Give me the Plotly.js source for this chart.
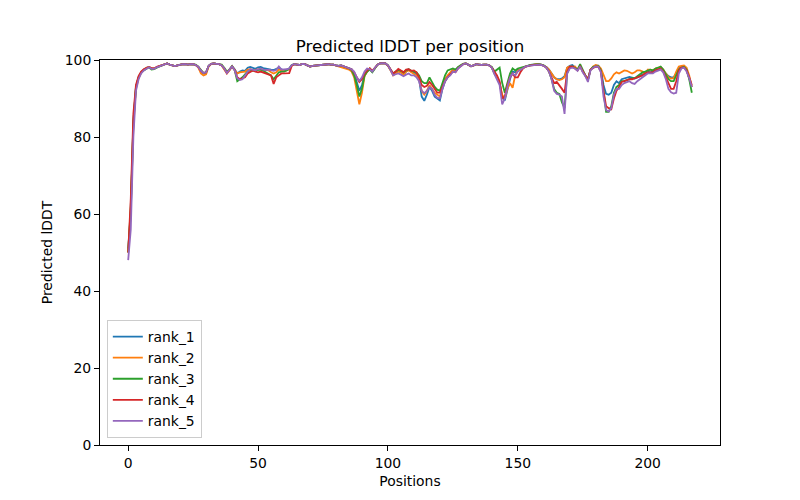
<!DOCTYPE html>
<html><head><meta charset="utf-8">
<script src="https://cdn.plot.ly/plotly-3.0.1.min.js"></script>
<style>html,body{margin:0;padding:0;background:#fff}#chart{width:800px;height:500px}</style>
</head><body><div id="chart"></div>
<script>
const seriesNames = ["rank_1","rank_2","rank_3","rank_4","rank_5"];
const rank_1 = [51,60,84,93,95.5,96.8,97.5,98,98.2,97.8,
97.8,98.2,98.4,98.6,98.9,99.1,98.8,98.5,98.4,98.6,
98.8,98.9,98.9,98.8,98.9,98.9,98.7,98.2,97.2,96.6,
96.8,98.5,99,99.1,99,98.9,98.6,97.8,96.8,97.5,
98.4,97.6,96.5,97,97.3,97.2,98,98.2,97.9,97.7,
98.1,98.2,97.9,97.7,97.6,97.5,97.4,97.6,98,97.6,
97.4,97.5,97.8,98.7,98.9,98.8,98.7,99,98.9,98.6,
98.3,98.5,98.6,98.7,98.8,98.8,98.9,98.9,98.8,98.8,
98.6,98.5,98.6,98.4,98,97.8,97.6,96.5,94.5,92,
93.5,96,97,97.8,97,98,98.8,99.1,99.2,99.1,
98.6,97.5,96.3,96.8,97.2,96.8,96.2,97,97.5,97,
96.8,96.3,95,90.5,89.4,91,93,92,90.5,90,
89.5,92.5,94.5,95.5,96.5,97.5,97,98,98.5,99,
99.1,98.8,98.4,98.6,98.9,98.8,98.7,98.8,98.8,98.6,
98,96.5,95.5,94,90.5,89.5,92.5,95,97,96.8,
97.5,97.5,98,98.3,98.5,98.7,98.8,98.9,98.9,98.8,
98.6,98.2,97.5,96.5,95.5,95,95,95.2,95.8,98,
98.5,98.7,98,97.5,98.5,97,96,95,97.5,98.2,
98.5,98.5,97.5,93.5,91.2,91,91.5,93.5,94.5,94,
95,95.2,95.5,95.6,95.4,95.2,95.5,95.8,96.2,96.8,
97,96.8,97,97.2,97.5,97.8,97.2,96.5,95.8,95.5,
95.5,96.5,97.8,98.3,98.2,97.5,95.5,93];
const rank_2 = [50,61,83,92.5,95.3,96.7,97.5,98,98.2,97.8,
97.8,98.2,98.4,98.6,98.9,99.1,98.8,98.5,98.4,98.6,
98.8,98.9,98.9,98.8,98.9,98.9,98.7,98,96.5,96,
96.3,98.3,99,99.1,99,98.9,98.6,97.6,96.5,97.3,
98.3,97.4,96.5,96.8,97,97,97.5,97.6,97.3,97.5,
97.6,97.7,97.5,97.3,97.3,96.8,96.5,96.8,97.5,97.3,
97.2,97.3,97.6,98.6,98.9,98.8,98.7,99,98.9,98.6,
98.3,98.5,98.6,98.7,98.8,98.8,98.9,98.9,98.8,98.8,
98.5,98.3,98.3,98,97.8,97.5,97,95.5,92,88.5,
91.5,95.8,97,97.8,97,98,98.8,99.1,99.2,99.1,
98.5,97.3,96,96.5,97,96.8,96.2,97,97.3,96.8,
96.5,96,95,92,91,92,93.5,92.5,91.5,91,
90.5,93,95,96,96.8,97.5,97,98,98.5,99,
99.1,98.8,98.4,98.6,98.9,98.8,98.7,98.8,98.8,98.6,
98,96.5,95.5,94,91,90,92.5,94,92.8,96,
97.2,97.5,98,98.3,98.5,98.7,98.8,98.9,98.9,98.8,
98.5,98.2,97.5,96.5,95.5,95,94.8,95,95.5,98,
98.3,98.2,98.3,97.5,98.5,97,96,95,97.5,98.3,
98.7,98.5,97.8,96,94.5,94.5,95.2,96.3,96.8,96.5,
97,97.3,97.2,96.8,96.5,96.8,97.3,97.3,97,96.2,
97.5,97.5,97.3,97.8,98,98.2,97.5,96.5,95.5,95.2,
95.3,97,98.3,98.5,98.6,98,96,93];
const rank_3 = [50,62,84,93,95.5,96.8,97.3,97.8,98.1,97.5,
97.6,98,98.4,98.6,98.9,99.1,98.8,98.5,98.4,98.6,
98.8,98.9,98.9,98.8,98.9,98.9,98.8,98.3,97.3,96.6,
96.8,98.5,99,99.1,99,98.9,98.8,98,97,97.5,
98.4,97.3,94.5,95,95.5,96.3,97,97.3,97.2,97.3,
97.5,97.5,97.2,96.8,96.5,96,95,96,96.8,97,
97,97.3,97.7,98.7,98.9,98.8,98.7,99,98.9,98.6,
98.3,98.5,98.6,98.7,98.8,98.8,98.9,98.9,98.8,98.8,
98.6,98.5,98.6,98.4,98,97.8,97.4,96,93.5,90.5,
92.5,96,97,97.5,96.8,98,98.8,99.1,99.2,99.1,
98.6,97.5,96.5,97,97.4,97.2,96.8,97.3,97.6,97.2,
97,96.8,96,94.5,94,94,95.5,94.3,93,92.3,
92,94,96,97.3,97.5,97.8,97.5,98.2,98.6,99,
99.1,98.8,98.4,98.6,98.9,98.8,98.7,98.8,98.8,98.6,
98.2,97,97.5,98,94,91.5,94,96.5,97.8,97.3,
97.8,98,98.3,98.5,98.6,98.7,98.8,98.9,98.9,98.8,
98.6,98,97,95,92.5,91.5,91.2,89,87.5,96.5,
98,98.3,98,97.5,98.9,97.2,96,94.8,97.5,98.2,
98.4,98.4,97.3,91,86.5,86.5,88,91.5,93,93.5,
94.5,94.5,94.8,95,95.3,95.3,95.8,96.2,96.8,97,
97.3,97.5,97.3,97.8,98,98.3,97.5,96.2,95,94.5,
94.5,96,97.5,98,98.2,97.5,95,91.5];
const rank_4 = [50,64,86,93.5,95.8,97,97.6,98,98.2,97.9,
97.8,98.2,98.4,98.6,98.9,99.1,98.8,98.5,98.4,98.6,
98.8,98.9,98.9,98.8,98.9,98.9,98.7,98.2,97.2,96.6,
96.8,98.5,99,99.1,99,98.9,98.6,97.8,96.6,97.5,
98.3,97.4,95.5,95,95.2,95.5,96.5,97,97.3,97,
96.8,97,96.8,96.5,96.3,96,93.8,95.5,96,96.5,
96.5,96.5,96.6,98.5,98.9,98.8,98.7,99,98.9,98.6,
98.3,98.5,98.6,98.7,98.8,98.8,98.9,98.9,98.8,98.8,
98.6,98.5,98.6,98.4,98,97.8,97.6,96.8,95.5,94.3,
95,96.5,97.3,97.8,97.2,98,98.8,99.1,99.2,99.1,
98.6,97.6,96.5,97,97.7,97.3,96.8,97.5,97.6,97.2,
97.3,96.8,95.5,93.5,93,93.3,94.3,93.5,92.3,91.5,
91.5,93,94.5,95.5,96.2,97,96.8,97.8,98.4,98.9,
99.1,98.8,98.4,98.6,98.9,98.8,98.7,98.8,98.8,98.6,
98,97,96,94.5,90,90.5,93.5,95.5,96.5,95.5,
95.5,96.8,97.8,98.3,98.5,98.6,98.7,98.8,98.8,98.7,
98.5,98,97,95.5,94,94.3,93.5,92.5,91.5,97,
98.2,98.3,97.8,97.3,98.3,97,95.8,94.8,97.5,98,
98.3,98.2,97,92,88,87.5,87.2,90,92,93,
94.3,94.5,94.8,95,95,95.2,95.5,95.8,96,96.5,
96.8,96.8,96.8,97.3,97.6,97.8,97,95.5,93.8,92.5,
92.5,94.5,97.3,98,98,97.3,95.5,93.5];
const rank_5 = [48,56,80,92,95,96.5,97.3,97.8,98.1,97.7,
97.7,98.1,98.4,98.6,98.9,99.1,98.8,98.5,98.4,98.6,
98.8,98.9,98.9,98.8,98.9,98.9,98.7,98.2,97.2,96.6,
96.8,98.5,99,99.1,99,98.9,98.6,97.8,96.6,97.5,
98.3,97.3,95.3,94.8,95,96,97,97.6,97.5,97.3,
97.6,97.8,97.5,97.4,97.5,97.3,97.2,97.4,98.3,97.5,
97.5,97.6,97.8,98.7,98.9,98.8,98.7,99,98.9,98.6,
98.3,98.5,98.6,98.7,98.8,98.8,98.9,98.9,98.8,98.8,
98.6,98.5,98.6,98.4,98.2,97.9,97.6,97,95.5,94.6,
95.5,97,97.8,97.6,97,98,98.8,99.1,99.2,99.1,
98.6,97.4,96,96.3,96.5,96.2,95.8,96.2,96.5,96,
96,95.5,94.5,92,91.4,92,93,92.5,91,90.2,
90,92.5,94.5,95.5,96,97,96.8,97.8,98.4,98.9,
99.1,98.8,98.4,98.6,98.9,98.8,98.7,98.8,98.8,98.6,
98,96.3,95,93.5,88.5,90,93,95.5,96.5,96,
97,97.5,98,98.3,98.5,98.6,98.7,98.8,98.8,98.7,
98.5,98,97,95,92,91.2,91,90.5,86,96.5,
97.8,98,97.8,97.2,98.3,96.8,95.8,94.3,97.3,98,
98.3,98.2,96.8,90.5,87,86.6,87.5,91,92.5,92.5,
93.5,94,94.3,94.5,94,93.8,94.5,95,95.5,96.2,
96.5,96.5,96.5,97,97.2,97.5,96.8,95,92.5,91.6,
91.3,91.5,96.5,97.8,98,97,95.3,93];
const colors = ["#1f77b4","#ff7f0e","#2ca02c","#d62728","#9467bd"];
const allSeries = [rank_1, rank_2, rank_3, rank_4, rank_5];

const traces = allSeries.map((ys, k) => ({
  x: ys.map((_, i) => i),
  y: ys,
  type: "scatter",
  mode: "lines",
  name: seriesNames[k],
  line: {color: colors[k], width: 1.8}
}));

const font = "DejaVu Sans, sans-serif";
const layout = {
  width: 800, height: 500,
  margin: {l: 100, r: 80, t: 60, b: 55},
  paper_bgcolor: "#fff", plot_bgcolor: "#fff",
  font: {family: font, size: 13.9, color: "#000"},
  title: {text: "Predicted lDDT per position", x: 0.5125, xanchor: "center", y: 0.908, yanchor: "middle", font: {family: font, size: 16.7, color: "#000"}},
  xaxis: {
    range: [-10.85, 227.85], tickvals: [0,50,100,150,200], ticks: "outside", ticklen: 5, tickcolor: "#000",
    showgrid: false, zeroline: false, showline: true, linecolor: "#000", linewidth: 1, mirror: true,
    title: {text: "Positions", font: {family: font, size: 13.9}, standoff: 6},
    tickfont: {family: font, size: 13.9}
  },
  yaxis: {
    range: [0, 100], tickvals: [0,20,40,60,80,100], ticks: "outside", ticklen: 5, tickcolor: "#000",
    showgrid: false, zeroline: false, showline: true, linecolor: "#000", linewidth: 1, mirror: true,
    title: {text: "Predicted lDDT", font: {family: font, size: 13.9}, standoff: 8},
    tickfont: {family: font, size: 13.9}
  },
  legend: {x: 0.011, y: 0.018, xanchor: "left", yanchor: "bottom", bgcolor: "rgba(255,255,255,0.8)",
    bordercolor: "#cccccc", borderwidth: 1, font: {family: font, size: 13.9}, tracegroupgap: 0, itemwidth: 30},
  showlegend: true
};
Plotly.newPlot("chart", traces, layout, {staticPlot: true, displayModeBar: false});
</script>
</body></html>
